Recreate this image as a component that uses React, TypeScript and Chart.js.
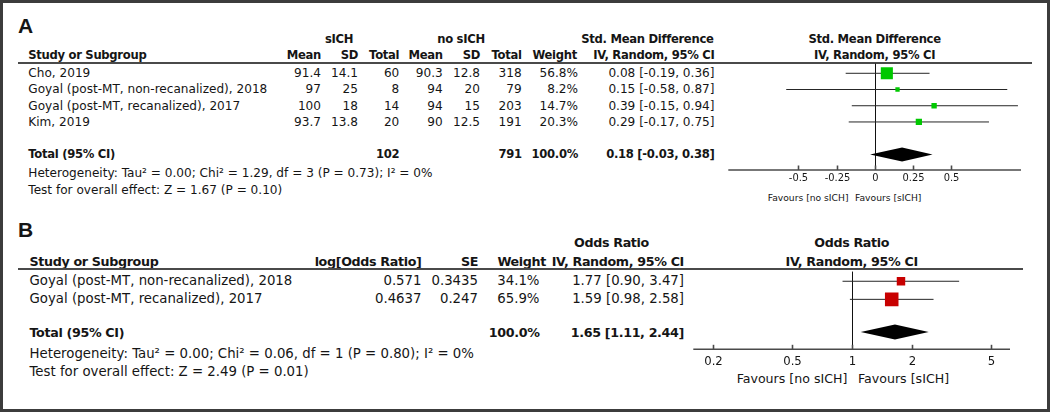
import React, { useEffect, useRef } from "react";
import { Chart, registerables } from "chart.js";
Chart.register(...registerables);

// ---------------- Panel A data ----------------
const STUDIES_A = [
  "Cho, 2019",
  "Goyal (post-MT, non-recanalized), 2018",
  "Goyal (post-MT, recanalized), 2017",
  "Kim, 2019",
];
const MEAN_SICH = ["91.4", "97", "100", "93.7"];
const SD_SICH = ["14.1", "25", "18", "13.8"];
const N_SICH = [60, 8, 14, 20];
const MEAN_NO = ["90.3", "94", "94", "90"];
const SD_NO = ["12.8", "20", "15", "12.5"];
const N_NO = [318, 79, 203, 191];
const WEIGHT_A = [56.8, 8.2, 14.7, 20.3];
const SMD = [0.08, 0.15, 0.39, 0.29];
const SMD_LO = [-0.19, -0.58, -0.15, -0.17];
const SMD_HI = [0.36, 0.87, 0.94, 0.75];
const POOLED_A = [0.18, -0.03, 0.38];
const TOTAL_SICH = 102;
const TOTAL_NO = 791;
const TICKS_A = [-0.5, -0.25, 0, 0.25, 0.5];
const TICK_LABELS_A = ["-0.5", "-0.25", "0", "0.25", "0.5"];
const HET_A = "Heterogeneity: Tau\u00b2 = 0.00; Chi\u00b2 = 1.29, df = 3 (P = 0.73); I\u00b2 = 0%";
const TEST_A = "Test for overall effect: Z = 1.67 (P = 0.10)";

// ---------------- Panel B data ----------------
const STUDIES_B = [
  "Goyal (post-MT, non-recanalized), 2018",
  "Goyal (post-MT, recanalized), 2017",
];
const LOG_OR = ["0.571", "0.4637"];
const SE_B = ["0.3435", "0.247"];
const WEIGHT_B = [34.1, 65.9];
const OR = [1.77, 1.59];
const OR_LO = [0.9, 0.98];
const OR_HI = [3.47, 2.58];
const POOLED_B = [1.65, 1.11, 2.44];
const TICKS_B = [0.2, 0.5, 1, 2, 5];
const TICK_LABELS_B = ["0.2", "0.5", "1", "2", "5"];
const HET_B = "Heterogeneity: Tau\u00b2 = 0.00; Chi\u00b2 = 0.06, df = 1 (P = 0.80); I\u00b2 = 0%";
const TEST_B = "Test for overall effect: Z = 2.49 (P = 0.01)";

const FONT = '"DejaVu Sans", "Noto Sans", sans-serif';
const TXT = "#151515";

const ci = (e: number, l: number, h: number) =>
  `${e.toFixed(2)} [${l.toFixed(2)}, ${h.toFixed(2)}]`;

type TProps = {
  x: number;
  y: number;
  a?: "l" | "r" | "c";
  b?: boolean;
  s: number;
  ls?: number;
  f?: string;
  children: React.ReactNode;
};
function T({ x, y, a = "l", b = false, s, ls = 0, f, children }: TProps) {
  const tx = a === "l" ? "0" : a === "r" ? "-100%" : "-50%";
  return (
    <div
      style={{
        position: "absolute",
        left: x,
        top: y,
        transform: `translate(${tx}, -50%)`,
        fontFamily: f || FONT,
        fontSize: s,
        fontWeight: b ? 700 : 400,
        letterSpacing: ls,
        whiteSpace: "nowrap",
        lineHeight: "normal",
        color: TXT,
      }}
    >
      {children}
    </div>
  );
}

function HLine({ x1, x2, y }: { x1: number; x2: number; y: number }) {
  return (
    <div
      style={{
        position: "absolute",
        left: x1,
        top: y - 1,
        width: x2 - x1,
        height: 2,
        background: "#4a4a4a",
      }}
    />
  );
}

type ForestProps = {
  left: number;
  top: number;
  w: number;
  h: number;
  area: { l: number; r: number; t: number; b: number };
  xType: "linear" | "logarithmic";
  xMin: number;
  xMax: number;
  yMin: number;
  yMax: number;
  rows: number[];
  est: number[];
  lo: number[];
  hi: number[];
  weights: number[];
  pooled: number[];
  pooledRow: number;
  color: string;
  nullValue: number;
  ticks: number[];
  tickLabels: string[];
  tickFont: number;
  tickDy: number;
  diamondH: number;
};

function Forest(p: ForestProps) {
  const ref = useRef<HTMLCanvasElement>(null);
  useEffect(() => {
    if (!ref.current) return;
    const decor = {
      id: "forestDecor",
      beforeDatasetsDraw(chart: any) {
        const { ctx, chartArea: ca, scales } = chart;
        const xs = scales.x;
        ctx.save();
        const nx = Math.round(xs.getPixelForValue(p.nullValue)) + 0.5;
        ctx.strokeStyle = "#111";
        ctx.lineWidth = 1;
        ctx.beginPath();
        ctx.moveTo(nx, ca.top);
        ctx.lineTo(nx, ca.bottom);
        ctx.stroke();
        ctx.strokeStyle = "#4a4a4a";
        ctx.lineWidth = 1.6;
        ctx.beginPath();
        ctx.moveTo(ca.left, ca.bottom);
        ctx.lineTo(ca.right, ca.bottom);
        ctx.stroke();
        ctx.fillStyle = TXT;
        ctx.font = `${p.tickFont}px "DejaVu Sans"`;
        ctx.textAlign = "center";
        ctx.textBaseline = "middle";
        p.ticks.forEach((t, i) => {
          const px = Math.round(xs.getPixelForValue(t)) + 0.5;
          ctx.beginPath();
          ctx.moveTo(px, ca.bottom);
          ctx.lineTo(px, ca.bottom - 4.5);
          ctx.stroke();
          ctx.fillText(p.tickLabels[i], px, ca.bottom + p.tickDy);
        });
        ctx.restore();
      },
      afterDatasetsDraw(chart: any) {
        const { ctx, scales } = chart;
        const xs = scales.x;
        const ys = scales.y;
        const yc = ys.getPixelForValue(p.pooledRow);
        ctx.save();
        ctx.fillStyle = "#000";
        ctx.beginPath();
        ctx.moveTo(xs.getPixelForValue(p.pooled[1]), yc);
        ctx.lineTo(xs.getPixelForValue(p.pooled[0]), yc - p.diamondH);
        ctx.lineTo(xs.getPixelForValue(p.pooled[2]), yc);
        ctx.lineTo(xs.getPixelForValue(p.pooled[0]), yc + p.diamondH);
        ctx.closePath();
        ctx.fill();
        ctx.restore();
      },
    };
    const ciSets = p.est.map((_, i) => ({
      data: [
        { x: p.lo[i], y: p.rows[i] },
        { x: p.hi[i], y: p.rows[i] },
      ],
      showLine: true,
      borderColor: "#262626",
      borderWidth: 1,
      pointRadius: 0,
      pointHoverRadius: 0,
      order: 2,
    }));
    const radii = p.weights.map((w) => (3 + 0.16 * w) / Math.SQRT2);
    const sqSet = {
      data: p.est.map((e, i) => ({ x: e, y: p.rows[i] })),
      showLine: false,
      pointStyle: "rect",
      pointRadius: radii,
      pointHoverRadius: radii,
      pointBackgroundColor: p.color,
      pointBorderWidth: 0,
      order: 0,
    };
    const chart = new Chart(ref.current, {
      type: "scatter",
      data: { datasets: [...ciSets, sqSet] as any },
      options: {
        animation: false,
        responsive: false,
        events: [],
        layout: {
          padding: {
            left: p.area.l - p.left,
            right: p.left + p.w - p.area.r,
            top: p.area.t - p.top,
            bottom: p.top + p.h - p.area.b,
          },
        },
        scales: {
          x: { type: p.xType, min: p.xMin, max: p.xMax, display: false },
          y: { type: "linear", min: p.yMin, max: p.yMax, reverse: true, display: false },
        },
        plugins: { legend: { display: false }, tooltip: { enabled: false } },
      } as any,
      plugins: [decor],
    });
    return () => chart.destroy();
  }, []);
  return (
    <canvas
      ref={ref}
      width={p.w}
      height={p.h}
      style={{ position: "absolute", left: p.left, top: p.top, width: p.w, height: p.h }}
    />
  );
}

export default function App() {
  // Panel A layout
  const rA = 12.1;
  const bA = 11.6;
  const lsA = -0.3;
  const rowsA = [73, 89.3, 105.6, 121.9];
  // Panel B layout
  const rB = 13.3;
  const bB = 12.7;
  const lsB = -0.35;
  const rowsB = [280, 298.3];

  return (
    <div
      style={{
        position: "absolute",
        left: 0,
        top: 0,
        width: 1050,
        height: 412,
        background: "#fff",
        overflow: "hidden",
      }}
    >
      {/* ============ Panel A ============ */}
      <T x={18} y={25.8} b s={21} f={'"Liberation Sans", Arial, sans-serif'}>A</T>
      <T x={339} y={38.8} a="c" b s={bA} ls={lsA}>sICH</T>
      <T x={461} y={38.8} a="c" b s={bA} ls={lsA}>no sICH</T>
      <T x={647.4} y={38.8} a="c" b s={bA} ls={lsA}>Std. Mean Difference</T>
      <T x={874.6} y={38.8} a="c" b s={bA} ls={lsA}>Std. Mean Difference</T>

      <T x={28.3} y={55} b s={bA} ls={lsA}>Study or Subgroup</T>
      <T x={321} y={55} a="r" b s={bA} ls={lsA}>Mean</T>
      <T x={358} y={55} a="r" b s={bA} ls={lsA}>SD</T>
      <T x={399.3} y={55} a="r" b s={bA} ls={lsA}>Total</T>
      <T x={442.7} y={55} a="r" b s={bA} ls={lsA}>Mean</T>
      <T x={480} y={55} a="r" b s={bA} ls={lsA}>SD</T>
      <T x={521.7} y={55} a="r" b s={bA} ls={lsA}>Total</T>
      <T x={577} y={55} a="r" b s={bA} ls={lsA}>Weight</T>
      <T x={714.5} y={55} a="r" b s={bA} ls={lsA}>IV, Random, 95% CI</T>
      <T x={874.6} y={55} a="c" b s={bA} ls={lsA}>IV, Random, 95% CI</T>
      <HLine x1={18} x2={1032} y={63} />

      {STUDIES_A.map((s, i) => (
        <React.Fragment key={"a" + i}>
          <T x={28.3} y={rowsA[i]} s={rA}>{s}</T>
          <T x={321} y={rowsA[i]} a="r" s={rA}>{MEAN_SICH[i]}</T>
          <T x={358} y={rowsA[i]} a="r" s={rA}>{SD_SICH[i]}</T>
          <T x={399.3} y={rowsA[i]} a="r" s={rA}>{N_SICH[i]}</T>
          <T x={442.7} y={rowsA[i]} a="r" s={rA}>{MEAN_NO[i]}</T>
          <T x={480} y={rowsA[i]} a="r" s={rA}>{SD_NO[i]}</T>
          <T x={521.7} y={rowsA[i]} a="r" s={rA}>{N_NO[i]}</T>
          <T x={578} y={rowsA[i]} a="r" s={rA}>{WEIGHT_A[i].toFixed(1) + "%"}</T>
          <T x={714.5} y={rowsA[i]} a="r" s={rA}>{ci(SMD[i], SMD_LO[i], SMD_HI[i])}</T>
        </React.Fragment>
      ))}
      <T x={28.3} y={154.3} b s={bA} ls={lsA}>Total (95% CI)</T>
      <T x={399.3} y={154.3} a="r" b s={bA} ls={lsA}>{TOTAL_SICH}</T>
      <T x={521.7} y={154.3} a="r" b s={bA} ls={lsA}>{TOTAL_NO}</T>
      <T x={578} y={154.3} a="r" b s={bA} ls={lsA}>100.0%</T>
      <T x={714.5} y={154.3} a="r" b s={bA} ls={lsA}>{ci(POOLED_A[0], POOLED_A[1], POOLED_A[2])}</T>
      <T x={28.3} y={173.3} s={rA}>{HET_A}</T>
      <T x={28.3} y={189.8} s={rA}>{TEST_A}</T>
      <T x={848.5} y={196.5} a="r" s={9.2}>Favours [no sICH]</T>
      <T x={855} y={196.5} s={9.2}>Favours [sICH]</T>

      <Forest
        left={700}
        top={55}
        w={340}
        h={132}
        area={{ l: 728.3, r: 1021, t: 63, b: 170 }}
        xType="linear"
        xMin={-0.96}
        xMax={0.96}
        yMin={-0.6}
        yMax={5.96}
        rows={[0, 1, 2, 3]}
        est={SMD}
        lo={SMD_LO}
        hi={SMD_HI}
        weights={WEIGHT_A}
        pooled={POOLED_A}
        pooledRow={5}
        color="#00c800"
        nullValue={0}
        ticks={TICKS_A}
        tickLabels={TICK_LABELS_A}
        tickFont={9.9}
        tickDy={8.5}
        diamondH={7}
      />

      {/* ============ Panel B ============ */}
      <T x={18} y={230} b s={21} f={'"Liberation Sans", Arial, sans-serif'}>B</T>
      <T x={611.5} y={242.3} a="c" b s={bB} ls={lsB}>Odds Ratio</T>
      <T x={851.7} y={242.3} a="c" b s={bB} ls={lsB}>Odds Ratio</T>
      <T x={29.5} y={260.8} b s={bB} ls={lsB}>Study or Subgroup</T>
      <T x={421.5} y={260.8} a="r" b s={bB} ls={lsB}>log[Odds Ratio]</T>
      <T x={478} y={260.8} a="r" b s={bB} ls={lsB}>SE</T>
      <T x={546} y={260.8} a="r" b s={bB} ls={lsB}>Weight</T>
      <T x={684} y={260.8} a="r" b s={bB} ls={lsB}>IV, Random, 95% CI</T>
      <T x={851.7} y={260.8} a="c" b s={bB} ls={lsB}>IV, Random, 95% CI</T>
      <HLine x1={18} x2={1023} y={269} />

      {STUDIES_B.map((s, i) => (
        <React.Fragment key={"b" + i}>
          <T x={29.5} y={rowsB[i]} s={rB}>{s}</T>
          <T x={421.5} y={rowsB[i]} a="r" s={rB}>{LOG_OR[i]}</T>
          <T x={478} y={rowsB[i]} a="r" s={rB}>{SE_B[i]}</T>
          <T x={539.5} y={rowsB[i]} a="r" s={rB}>{WEIGHT_B[i].toFixed(1) + "%"}</T>
          <T x={684} y={rowsB[i]} a="r" s={rB}>{ci(OR[i], OR_LO[i], OR_HI[i])}</T>
        </React.Fragment>
      ))}
      <T x={29.5} y={331.8} b s={bB} ls={lsB}>Total (95% CI)</T>
      <T x={539.5} y={331.8} a="r" b s={bB} ls={lsB}>100.0%</T>
      <T x={684} y={331.8} a="r" b s={bB} ls={lsB}>{ci(POOLED_B[0], POOLED_B[1], POOLED_B[2])}</T>
      <T x={29.5} y={352.7} s={rB}>{HET_B}</T>
      <T x={29.5} y={370.8} s={rB}>{TEST_B}</T>
      <T x={847.4} y={377.5} a="r" s={12.6}>Favours [no sICH]</T>
      <T x={858} y={377.5} s={12.6}>Favours [sICH]</T>

      <Forest
        left={670}
        top={262}
        w={360}
        h={110}
        area={{ l: 693.3, r: 1010, t: 269, b: 349.3 }}
        xType="logarithmic"
        xMin={0.16}
        xMax={6.25}
        yMin={-0.535}
        yMax={3.76}
        rows={[0, 1]}
        est={OR}
        lo={OR_LO}
        hi={OR_HI}
        weights={WEIGHT_B}
        pooled={POOLED_B}
        pooledRow={2.81}
        color="#c80000"
        nullValue={1}
        ticks={TICKS_B}
        tickLabels={TICK_LABELS_B}
        tickFont={11.7}
        tickDy={12.2}
        diamondH={7.5}
      />

      {/* outer frame */}
      <div
        style={{
          position: "absolute",
          left: 0,
          top: 0,
          width: 1050,
          height: 412,
          boxSizing: "border-box",
          border: "3px solid #3c3c3c",
          pointerEvents: "none",
        }}
      />
    </div>
  );
}
